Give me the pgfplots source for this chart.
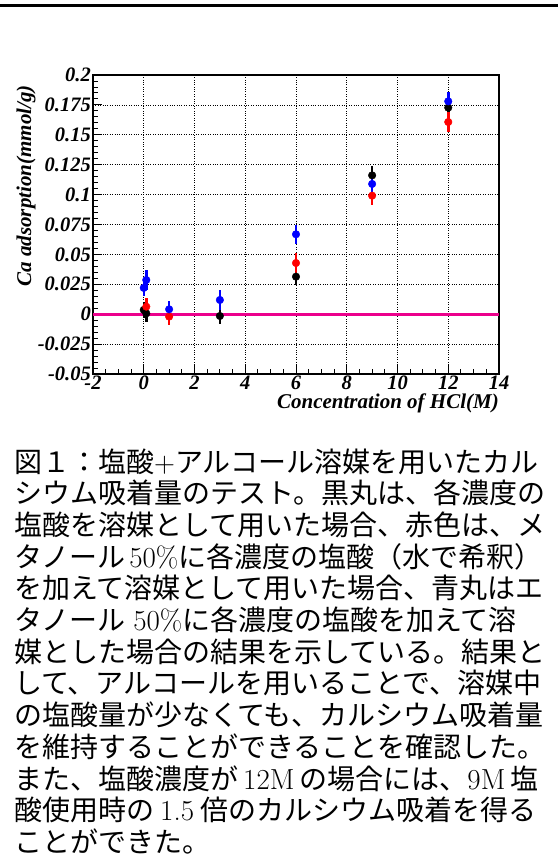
\documentclass[border=0pt]{standalone}
\usepackage{fontspec}
\usepackage{pgfplots}
\usepackage{pgfplotstable}
\pgfplotsset{compat=1.18}
\newfontfamily\tnr{Liberation Serif}
\newfontfamily\cjk{Noto Sans CJK JP}

\pgfplotstableread{
x y e
0 0.0036 0.007
0.1 0.0007 0.007
3 -0.0015 0.007
6 0.0314 0.007
9 0.1161 0.008
12 0.1727 0.008
}\blackdata
\pgfplotstableread{
x y e
0.1 0.0063 0.007
1 -0.0020 0.007
6 0.0428 0.008
9 0.0991 0.008
12 0.1607 0.008
}\reddata
\pgfplotstableread{
x y e
0 0.0220 0.007
0.1 0.0286 0.008
1 0.0041 0.007
3 0.0119 0.008
6 0.0668 0.008
9 0.1089 0.008
12 0.1780 0.008
}\bluedata

\newcommand\lat[1]{{\rmfamily\fontsize{29bp}{29bp}\selectfont #1}}
\newcommand\gap[1]{\hspace*{#1bp}}
\newcommand\capl[2]{\node[anchor=base west, inner sep=0pt, font=\fontsize{28bp}{32bp}\selectfont\cjk] at (14bp,-#1bp) {#2};}

\begin{document}
\begin{tikzpicture}
\useasboundingbox (0,0) rectangle (558bp,-865bp);
\draw[line width=2.5bp] (0,-5.3bp) -- (558bp,-5.3bp);
\begin{axis}[
  at={(93bp,-374bp)}, anchor=south west,
  scale only axis, width=406bp, height=299bp,
  xmin=-2, xmax=14, ymin=-0.05, ymax=0.2,
  xtick={-2,0,2,4,6,8,10,12,14},
  ytick={-0.05,-0.025,0,0.025,0.05,0.075,0.1,0.125,0.15,0.175,0.2},
  minor x tick num=3, minor y tick num=4,
  tick pos=left, tick align=inside,
  major tick length=9bp, minor tick length=5bp,
  every tick/.style={black, line width=0.9bp},
  axis line style={line width=2bp},
  grid=major,
  major grid style={dotted, black, line width=0.7bp},
  scaled ticks=false,
  /pgf/number format/assume math mode=true,
  ticklabel style={font=\tnr\bfseries\itshape\fontsize{20.5bp}{20.5bp}\selectfont},
  xticklabel style={inner sep=1.5bp},
  yticklabel style={inner sep=2bp, /pgf/number format/fixed, /pgf/number format/precision=3},
  xlabel={Concentration of HCl(M)},
  ylabel={Ca adsorption(mmol/g)},
  xlabel style={at={(axis description cs:1,-0.117)}, anchor=base east, inner sep=0pt, font=\tnr\bfseries\itshape\fontsize{21bp}{21bp}\selectfont},
  ylabel style={at={(axis description cs:-0.1527,0.9666)}, anchor=base east, inner sep=0pt, font=\tnr\bfseries\itshape\fontsize{21bp}{21bp}\selectfont},
  clip=false,
]
\addplot[magenta, line width=2.6bp, forget plot] coordinates {(-2,0) (14,0)};
\addplot[only marks, mark=*, mark size=3.8bp, black, mark options={fill=black},
  error bars/.cd, y dir=both, y explicit, error mark=none,
  error bar style={line width=2.5bp, black}]
  table[x=x, y=y, y error=e] {\blackdata};
\addplot[only marks, mark=*, mark size=3.8bp, red, mark options={fill=red},
  error bars/.cd, y dir=both, y explicit, error mark=none,
  error bar style={line width=2.5bp, red}]
  table[x=x, y=y, y error=e] {\reddata};
\addplot[only marks, mark=*, mark size=3.8bp, blue, mark options={fill=blue},
  error bars/.cd, y dir=both, y explicit, error mark=none,
  error bar style={line width=2.5bp, blue}]
  table[x=x, y=y, y error=e] {\bluedata};
\end{axis}
\capl{472}{図１：塩酸\lat{+}アルコール溶媒を用いたカル}
\capl{503.7}{シウム吸着量のテスト。黒丸は、各濃度の}
\capl{535.4}{塩酸を溶媒として用いた場合、赤色は、メ}
\capl{567.1}{タノール\gap{4}\lat{50\%}に各濃度の塩酸（水で希釈）}
\capl{598.8}{を加えて溶媒として用いた場合、青丸はエ}
\capl{630.5}{タノール\gap{8}\lat{50\%}に各濃度の塩酸を加えて溶}
\capl{662.2}{媒とした場合の結果を示している。結果と}
\capl{693.9}{して、アルコールを用いることで、溶媒中}
\capl{725.6}{の塩酸量が少なくても、カルシウム吸着量}
\capl{757.3}{を維持することができることを確認した。}
\capl{789}{また、塩酸濃度が\gap{5}\lat{12M}\gap{5}の場合には、\lat{9M}\gap{5}塩}
\capl{820.7}{酸使用時の\gap{6}\lat{1.5}\gap{6}倍のカルシウム吸着を得る}
\capl{852.4}{ことができた。}
\end{tikzpicture}
\end{document}
